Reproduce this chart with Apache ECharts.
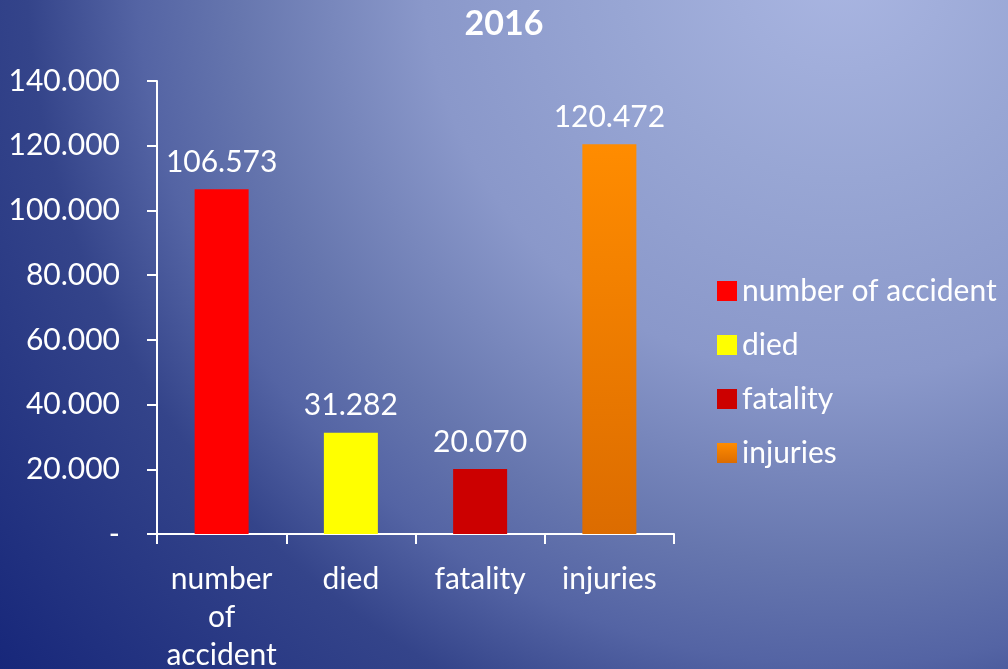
<!DOCTYPE html>
<html>
<head>
<meta charset="utf-8">
<script src="https://cdn.jsdelivr.net/npm/echarts@6/dist/echarts.min.js"></script>
<style>
  html, body { margin: 0; padding: 0; }
  #chart { width: 1008px; height: 669px; }
</style>
</head>
<body>
<div id="chart"></div>
<script>
var categories = ['number of accident', 'died', 'fatality', 'injuries'];
var values = [106573, 31282, 20070, 120472];
var barColors = ['#ff0000', '#ffff00', '#cc0000', '#ff8a00'];
var yTicks = [0, 20000, 40000, 60000, 80000, 100000, 120000, 140000];

var font = 'Lato';

function fmt(v) {
  if (v === 0) return '-';
  return (v / 1000).toFixed(3);
}

// one series per category so each gets its own legend entry
var series = categories.map(function (name, i) {
  var d = categories.map(function (c, j) { return j === i ? values[i] : null; });
  var color = barColors[i];
  if (i === 3) {
    color = new echarts.graphic.LinearGradient(0, 0, 0, 1, [
      { offset: 0, color: '#ff8c00' },
      { offset: 1, color: '#dc6c00' }
    ]);
  }
  return {
    name: name,
    type: 'bar',
    data: d,
    barWidth: 54,
    barGap: '-100%',
    itemStyle: { color: color },
    label: {
      show: true,
      position: 'top',
      distance: 12,
      color: '#ffffff',
      fontFamily: font,
      fontSize: 30,
      formatter: function (p) { return fmt(p.value); }
    }
  };
});

var chart = echarts.init(document.getElementById('chart'));
chart.setOption({
  backgroundColor: {
    type: 'radial',
    x: 840, y: -40, r: 1100,
    global: true,
    colorStops: [
      { offset: 0, color: '#aab6e2' },
      { offset: 0.2, color: '#98a6d4' },
      { offset: 0.38, color: '#8a98ca' },
      { offset: 0.55, color: '#6676ae' },
      { offset: 0.64, color: '#5464a4' },
      { offset: 0.74, color: '#34448a' },
      { offset: 1, color: '#17277a' }
    ]
  },
  title: {
    text: '2016',
    left: 'center',
    top: 2,
    textStyle: { color: '#ffffff', fontFamily: font, fontSize: 34, fontWeight: 'bold' }
  },
  legend: {
    orient: 'vertical',
    left: 712,
    top: 271,
    icon: 'rect',
    itemWidth: 20,
    itemHeight: 20,
    itemGap: 24,
    textStyle: { color: '#ffffff', fontFamily: font, fontSize: 30 },
    data: categories
  },
  grid: { left: 157, right: 334, top: 81, bottom: 135, outerBoundsMode: 'none', containLabel: false },
  xAxis: {
    type: 'category',
    data: categories,
    axisLine: { lineStyle: { color: '#ffffff', width: 2 } },
    axisTick: { show: true, length: 10, lineStyle: { color: '#ffffff', width: 2 } },
    axisLabel: {
      color: '#ffffff',
      fontFamily: font,
      fontSize: 30,
      margin: 26,
      lineHeight: 38,
      interval: 0,
      formatter: function (v) { return v.replace(/ /g, '\n'); }
    }
  },
  yAxis: {
    type: 'value',
    min: 0,
    max: 140000,
    interval: 20000,
    splitLine: { show: false },
    axisLine: { show: true, lineStyle: { color: '#ffffff', width: 2 } },
    axisTick: { show: true, length: 10, lineStyle: { color: '#ffffff', width: 2 } },
    axisLabel: {
      color: '#ffffff',
      fontFamily: font,
      fontSize: 30,
      margin: 37,
      formatter: function (v) { return yTicks.indexOf(v) >= 0 ? fmt(v) : ''; }
    }
  },
  series: series
});
</script>
</body>
</html>
